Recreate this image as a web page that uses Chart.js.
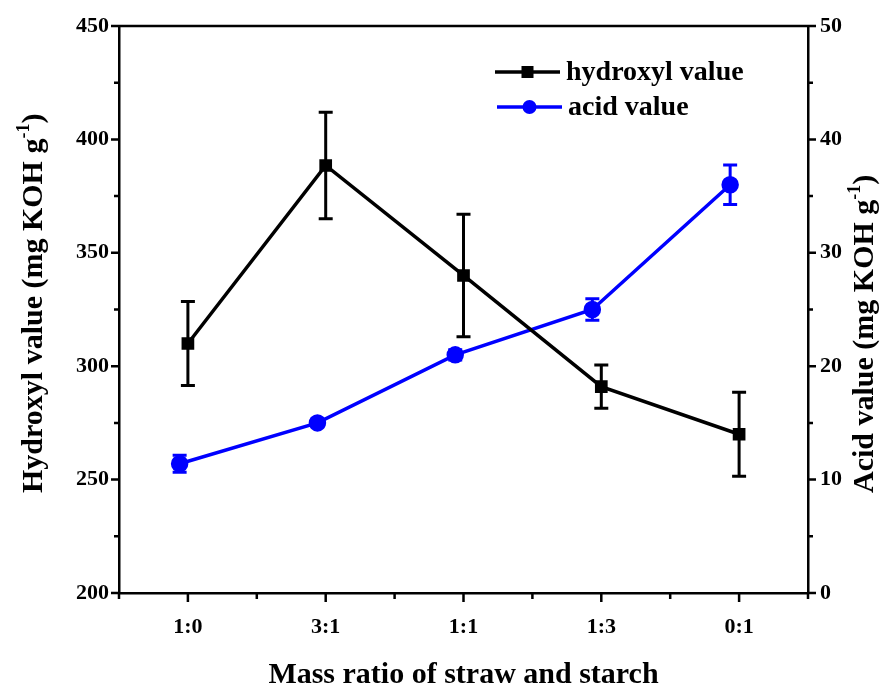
<!DOCTYPE html>
<html lang="en">
<head>
<meta charset="UTF-8">
<title>Hydroxyl and acid value</title>
<script src="https://cdn.jsdelivr.net/npm/chart.js"></script>
<style>
  html, body { margin: 0; padding: 0; background: #fff; }
  #wrap { width: 893px; height: 686px; }
</style>
</head>
<body>
<div id="wrap"><canvas id="myChart" width="893" height="686"></canvas></div>

<script>
  // mass ratio of straw : starch
  const ratios = ['1:0', '3:1', '1:1', '1:3', '0:1'];

  // hydroxyl value, mg KOH/g
  const hydroxylX = [0, 1, 2, 3, 4];
  const hydroxylValue = [310, 388.5, 340, 291, 270];
  const hydroxylErr = [18.5, 23.5, 27, 9.5, 18.5];

  // acid value, mg KOH/g (plotted a bit left of the category)
  const acidX = [-0.06, 0.94, 1.94, 2.935, 3.935];
  const acidValue = [11.4, 15.0, 21.0, 25.0, 36.0];
  const acidErr = [0.75, 0.35, 0.45, 0.95, 1.75];

  const serif = '"Liberation Serif", "Times New Roman", serif';

  function toPoints(xs, ys) {
    return xs.map((x, i) => ({ x: x, y: ys[i] }));
  }

  function richText(ctx, parts, x, y, angle, align) {
    ctx.save();
    ctx.translate(x, y);
    ctx.rotate(angle);
    ctx.textBaseline = 'alphabetic';
    ctx.textAlign = 'left';
    ctx.fillStyle = '#000';
    let total = 0;
    parts.forEach(p => {
      ctx.font = 'bold ' + p.size + 'px ' + serif;
      p.w = ctx.measureText(p.text).width;
      total += p.w;
    });
    let cx = align === 'center' ? -total / 2 : 0;
    parts.forEach(p => {
      ctx.font = 'bold ' + p.size + 'px ' + serif;
      ctx.fillText(p.text, cx, p.rise || 0);
      cx += p.w;
    });
    ctx.restore();
  }

  // vertical error bars with caps
  const errorBars = {
    id: 'errorBars',
    beforeDatasetsDraw(chart) {
      const ctx = chart.ctx;
      chart.data.datasets.forEach((ds, i) => {
        const meta = chart.getDatasetMeta(i);
        const ys = chart.scales[ds.yAxisID];
        ctx.save();
        ctx.strokeStyle = ds.borderColor;
        ctx.lineWidth = 3;
        meta.data.forEach((pt, j) => {
          const v = ds.data[j].y, e = ds.errors[j];
          const top = ys.getPixelForValue(v + e);
          const bot = ys.getPixelForValue(v - e);
          ctx.beginPath();
          ctx.moveTo(pt.x, top); ctx.lineTo(pt.x, bot);
          ctx.moveTo(pt.x - 7, top); ctx.lineTo(pt.x + 7, top);
          ctx.moveTo(pt.x - 7, bot); ctx.lineTo(pt.x + 7, bot);
          ctx.stroke();
        });
        ctx.restore();
      });
    }
  };

  // top frame line, major/minor tick marks, axis titles and the legend
  const decorations = {
    id: 'decorations',
    afterDraw(chart) {
      const ctx = chart.ctx;
      const a = chart.chartArea;
      const xs = chart.scales.x, yl = chart.scales.yLeft, yr = chart.scales.yRight;
      ctx.save();
      ctx.strokeStyle = '#000';
      ctx.lineWidth = 2.5;
      ctx.beginPath();
      ctx.moveTo(a.left - 1, a.top); ctx.lineTo(a.right + 1, a.top);

      for (let v = -0.5; v <= 4.5; v += 0.5) {
        const px = xs.getPixelForValue(v);
        const len = Number.isInteger(v) ? 9 : 6;
        ctx.moveTo(px, a.bottom); ctx.lineTo(px, a.bottom + len);
      }
      for (let v = 200; v <= 450; v += 25) {
        const py = yl.getPixelForValue(v);
        const len = v % 50 === 0 ? 8 : 5;
        ctx.moveTo(a.left, py); ctx.lineTo(a.left - len, py);
      }
      for (let v = 0; v <= 50; v += 5) {
        const py = yr.getPixelForValue(v);
        const len = v % 10 === 0 ? 8 : 5;
        ctx.moveTo(a.right, py); ctx.lineTo(a.right + len, py);
      }
      ctx.stroke();
      ctx.restore();

      richText(ctx, [{ text: 'Mass ratio of straw and starch', size: 30 }],
        (a.left + a.right) / 2, 683, 0, 'center');
      richText(ctx, [
        { text: 'Hydroxyl value (mg KOH g', size: 30 },
        { text: '-1', size: 18, rise: -13 },
        { text: ')', size: 30 }
      ], 42, 493, -Math.PI / 2, 'left');
      richText(ctx, [
        { text: 'Acid value (mg KOH g', size: 30 },
        { text: '-1', size: 18, rise: -13 },
        { text: ')', size: 30 }
      ], 873, 493, -Math.PI / 2, 'left');

      // legend
      const items = [
        { ds: chart.data.datasets[0], x0: 495, x1: 560, y: 72, tx: 566 },
        { ds: chart.data.datasets[1], x0: 497, x1: 562, y: 107, tx: 568 }
      ];
      items.forEach(it => {
        const ds = it.ds;
        ctx.save();
        ctx.strokeStyle = ds.borderColor;
        ctx.fillStyle = ds.borderColor;
        ctx.lineWidth = ds.borderWidth;
        ctx.beginPath();
        ctx.moveTo(it.x0, it.y); ctx.lineTo(it.x1, it.y);
        ctx.stroke();
        const mx = (it.x0 + it.x1) / 2;
        if (ds.pointStyle === 'rect') {
          ctx.fillRect(mx - 6, it.y - 6, 12, 12);
        } else {
          ctx.beginPath();
          ctx.arc(mx, it.y, 7, 0, Math.PI * 2);
          ctx.fill();
        }
        ctx.fillStyle = '#000';
        ctx.font = 'bold 28px ' + serif;
        ctx.textBaseline = 'middle';
        ctx.textAlign = 'left';
        ctx.fillText(ds.label, it.tx, it.y + 1);
        ctx.restore();
      });
    }
  };

  const tickFont = { family: serif, size: 22, weight: 'bold' };

  new Chart(document.getElementById('myChart'), {
    type: 'line',
    data: {
      datasets: [{
        label: 'hydroxyl value',
        data: toPoints(hydroxylX, hydroxylValue),
        errors: hydroxylErr,
        yAxisID: 'yLeft',
        borderColor: '#000000',
        backgroundColor: '#000000',
        borderWidth: 3.5,
        pointStyle: 'rect',
        pointRadius: 6.5,
        pointHoverRadius: 6.5
      }, {
        label: 'acid value',
        data: toPoints(acidX, acidValue),
        errors: acidErr,
        yAxisID: 'yRight',
        borderColor: '#0000ff',
        backgroundColor: '#0000ff',
        borderWidth: 3.5,
        pointStyle: 'circle',
        pointRadius: 7,
        pointHoverRadius: 7
      }]
    },
    options: {
      responsive: false,
      animation: false,
      layout: { padding: { top: 26, left: 0, right: 0, bottom: 0 } },
      plugins: { legend: { display: false }, tooltip: { enabled: false } },
      scales: {
        x: {
          type: 'linear',
          min: -0.5,
          max: 4.5,
          afterBuildTicks: s => { s.ticks = hydroxylX.map(v => ({ value: v })); },
          afterFit: s => { s.height = 93; },
          grid: { display: false, drawTicks: false },
          border: { display: true, color: '#000', width: 2.5 },
          ticks: {
            font: tickFont, color: '#000', padding: 21, maxRotation: 0,
            callback: v => ratios[v]
          }
        },
        yLeft: {
          position: 'left',
          min: 200,
          max: 450,
          afterFit: s => { s.width = 119; },
          grid: { display: false, drawTicks: false },
          border: { display: true, color: '#000', width: 2.5 },
          ticks: { stepSize: 50, font: tickFont, color: '#000', padding: 10 }
        },
        yRight: {
          position: 'right',
          min: 0,
          max: 50,
          afterFit: s => { s.width = 85; },
          grid: { display: false, drawTicks: false },
          border: { display: true, color: '#000', width: 2.5 },
          ticks: { stepSize: 10, font: tickFont, color: '#000', padding: 12 }
        }
      }
    },
    plugins: [errorBars, decorations]
  });
</script>
</body>
</html>
